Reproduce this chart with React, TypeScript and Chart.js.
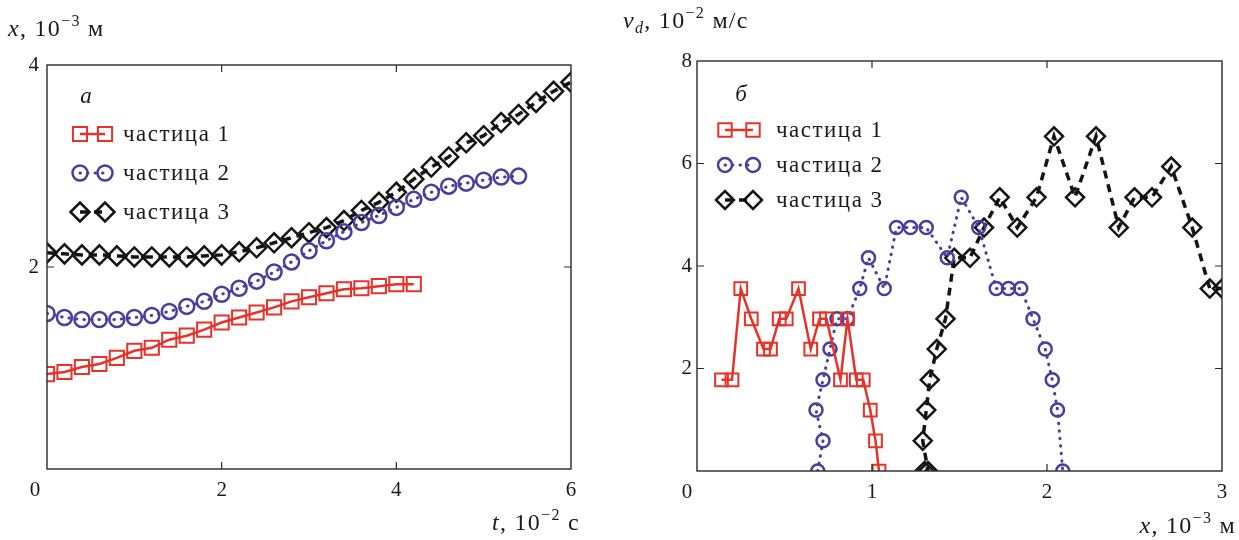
import React, { useEffect, useRef } from 'react';
import { Chart, registerables } from 'chart.js';

Chart.register(...registerables);

const FONT = '"Liberation Serif", "Times New Roman", serif';

// ---------- panel a: x(t) ----------
const tA = [0, 0.2, 0.4, 0.6, 0.8, 1.0, 1.2, 1.4, 1.6, 1.8, 2.0, 2.2, 2.4, 2.6, 2.8, 3.0, 3.2, 3.4, 3.6, 3.8, 4.0, 4.2, 4.4, 4.6, 4.8, 5.0, 5.2, 5.4, 5.6, 5.8, 6.0];
const xA1 = [0.94, 0.96, 1.01, 1.04, 1.10, 1.17, 1.20, 1.28, 1.32, 1.38, 1.45, 1.50, 1.55, 1.60, 1.66, 1.70, 1.74, 1.78, 1.79, 1.81, 1.83, 1.83];
const xA2 = [1.54, 1.50, 1.48, 1.48, 1.48, 1.50, 1.52, 1.56, 1.61, 1.66, 1.73, 1.79, 1.86, 1.95, 2.05, 2.16, 2.26, 2.35, 2.44, 2.51, 2.59, 2.67, 2.74, 2.80, 2.83, 2.86, 2.89, 2.90];
const xA3 = [2.14, 2.13, 2.12, 2.12, 2.11, 2.10, 2.10, 2.10, 2.10, 2.11, 2.12, 2.15, 2.19, 2.24, 2.29, 2.34, 2.39, 2.46, 2.56, 2.64, 2.74, 2.87, 2.99, 3.09, 3.23, 3.30, 3.43, 3.51, 3.63, 3.74, 3.83];

// ---------- panel б: v_d(x) ----------
const xB1 = [0.14, 0.20, 0.25, 0.31, 0.38, 0.42, 0.47, 0.51, 0.58, 0.65, 0.70, 0.74, 0.82, 0.86, 0.91, 0.95, 0.99, 1.02, 1.04];
const vB1 = [1.78, 1.78, 3.56, 2.97, 2.38, 2.38, 2.97, 2.97, 3.56, 2.38, 2.97, 2.97, 1.78, 2.97, 1.78, 1.78, 1.19, 0.59, 0];
const xB2 = [0.69, 0.72, 0.68, 0.72, 0.76, 0.80, 0.86, 0.93, 0.98, 1.07, 1.14, 1.22, 1.31, 1.43, 1.51, 1.61, 1.71, 1.78, 1.85, 1.92, 1.99, 2.03, 2.06, 2.09];
const vB2 = [0, 0.59, 1.19, 1.78, 2.38, 2.97, 2.97, 3.56, 4.16, 3.56, 4.75, 4.75, 4.75, 4.16, 5.34, 4.75, 3.56, 3.56, 3.56, 2.97, 2.38, 1.78, 1.19, 0];
const xB3 = [1.30, 1.32, 1.29, 1.31, 1.33, 1.37, 1.42, 1.47, 1.56, 1.64, 1.73, 1.83, 1.94, 2.04, 2.16, 2.28, 2.41, 2.50, 2.60, 2.71, 2.83, 2.93, 3.00];
const vB3 = [0, 0, 0.59, 1.19, 1.78, 2.38, 2.97, 4.16, 4.16, 4.75, 5.34, 4.75, 5.34, 6.53, 5.34, 6.53, 4.75, 5.34, 5.34, 5.94, 4.75, 3.56, 3.56];

const labels = ['частица 1', 'частица 2', 'частица 3'];
const ticksA_x = [2, 4];
const ticksA_y = [2];
const ticksB_x = [1, 2];
const ticksB_y = [2, 4, 6];

const RED = '#E5332A';
const BLUE = '#4B3C9E';
const BLACK = '#141414';

type Part = { t: string; italic?: boolean; sup?: boolean; sub?: boolean };

function drawRich(ctx: CanvasRenderingContext2D, parts: Part[], x: number, y: number, align: 'left' | 'right') {
  (ctx as any).letterSpacing = '1.3px';
  const segs = parts.map((p) => {
    const fs = p.sup || p.sub ? 16 : 24;
    const font = `${p.italic ? 'italic ' : ''}${fs}px ${FONT}`;
    ctx.font = font;
    return { ...p, font, w: ctx.measureText(p.t).width, dy: p.sup ? -10 : p.sub ? 5 : 0 };
  });
  const total = segs.reduce((s, q) => s + q.w, 0);
  let cx = align === 'right' ? x - total : x;
  ctx.textAlign = 'left';
  ctx.textBaseline = 'alphabetic';
  ctx.fillStyle = '#1a1a1a';
  for (const s of segs) {
    ctx.font = s.font;
    ctx.fillText(s.t, cx, y + s.dy);
    cx += s.w;
  }
  (ctx as any).letterSpacing = '0px';
}

function markerPath(ctx: CanvasRenderingContext2D, style: string, x: number, y: number, r: number) {
  ctx.beginPath();
  if (style === 'rect') {
    const s = r * Math.SQRT1_2;
    ctx.rect(x - s, y - s, 2 * s, 2 * s);
  } else if (style === 'circle') {
    ctx.arc(x, y, r, 0, Math.PI * 2);
  } else {
    ctx.moveTo(x - r, y);
    ctx.lineTo(x, y - r);
    ctx.lineTo(x + r, y);
    ctx.lineTo(x, y + r);
    ctx.closePath();
  }
}

const decoPlugin = {
  id: 'deco',
  afterDraw(chart: any, _args: any, opts: any) {
    const ctx: CanvasRenderingContext2D = chart.ctx;
    const { left, right, top, bottom } = chart.chartArea;
    const xs = chart.scales.x;
    const ys = chart.scales.y;
    ctx.save();
    // frame
    ctx.strokeStyle = '#2a2a2a';
    ctx.lineWidth = 1.4;
    ctx.setLineDash([]);
    ctx.strokeRect(left, top, right - left, bottom - top);
    // inward ticks on all sides
    const L = 7;
    ctx.lineWidth = 1.2;
    ctx.beginPath();
    for (const v of opts.ticksX) {
      const px = xs.getPixelForValue(v);
      ctx.moveTo(px, bottom);
      ctx.lineTo(px, bottom - L);
      ctx.moveTo(px, top);
      ctx.lineTo(px, top + L);
    }
    for (const v of opts.ticksY) {
      const py = ys.getPixelForValue(v);
      ctx.moveTo(left, py);
      ctx.lineTo(left + L, py);
      ctx.moveTo(right, py);
      ctx.lineTo(right - L, py);
    }
    ctx.stroke();
    // shared origin label
    ctx.font = `21px ${FONT}`;
    ctx.fillStyle = '#1a1a1a';
    ctx.textAlign = 'center';
    ctx.textBaseline = 'middle';
    ctx.fillText('0', left - opts.zeroOffset, bottom + 21);
    // panel letter
    ctx.font = `italic 23px ${FONT}`;
    ctx.fillText(opts.panel, opts.panelPos[0], opts.panelPos[1]);
    // legend
    const lg = opts.legend;
    chart.data.datasets.forEach((ds: any, i: number) => {
      const y = lg.ys[i];
      ctx.strokeStyle = ds.borderColor;
      ctx.lineWidth = ds.borderWidth;
      ctx.lineCap = ds.borderCapStyle || 'butt';
      ctx.setLineDash(ds.borderDash || []);
      ctx.beginPath();
      ctx.moveTo(lg.x1, y);
      ctx.lineTo(lg.x2, y);
      ctx.stroke();
      ctx.setLineDash([]);
      ctx.lineCap = 'butt';
      for (const mx of [lg.x1, lg.x2]) {
        markerPath(ctx, ds.pointStyle, mx, y, lg.r[i]);
        ctx.lineWidth = ds.pointBorderWidth;
        ctx.strokeStyle = ds.borderColor;
        ctx.stroke();
      }
      ctx.font = `23px ${FONT}`;
      (ctx as any).letterSpacing = '1.5px';
      ctx.fillStyle = '#1a1a1a';
      ctx.textAlign = 'left';
      ctx.textBaseline = 'alphabetic';
      ctx.fillText(ds.label, lg.tx, y + 7);
      (ctx as any).letterSpacing = '0px';
    });
    // axis titles
    drawRich(ctx, opts.yTitle.parts, opts.yTitle.x, opts.yTitle.y, 'left');
    drawRich(ctx, opts.xTitle.parts, opts.xTitle.x, opts.xTitle.y, 'right');
    ctx.restore();
  },
};

function styleSets(d1: any[], d2: any[], d3: any[], r: number[]) {
  return [
    {
      label: labels[0],
      data: d1,
      borderColor: RED,
      borderWidth: 2.5,
      pointStyle: 'rect',
      pointRadius: r[0],
      pointBorderWidth: 2,
      pointBackgroundColor: 'rgba(0,0,0,0)',
      pointBorderColor: RED,
      clip: 0,
    },
    {
      label: labels[1],
      data: d2,
      borderColor: BLUE,
      borderWidth: 3,
      borderDash: [0.5, 7],
      borderCapStyle: 'round',
      pointStyle: 'circle',
      pointRadius: r[1],
      pointBorderWidth: 2.5,
      pointBackgroundColor: 'rgba(0,0,0,0)',
      pointBorderColor: BLUE,
      clip: 0,
    },
    {
      label: labels[2],
      data: d3,
      borderColor: BLACK,
      borderWidth: 3.5,
      borderDash: [8, 6],
      pointStyle: 'rectRot',
      pointRadius: r[2],
      pointBorderWidth: 2.5,
      pointBackgroundColor: 'rgba(0,0,0,0)',
      pointBorderColor: BLACK,
      clip: 0,
    },
  ];
}

function makeConfig(p: any): any {
  return {
    type: 'line',
    data: { datasets: p.datasets },
    options: {
      responsive: false,
      animation: false,
      devicePixelRatio: 1,
      layout: { padding: { left: 0, bottom: 0, top: p.top, right: p.right } },
      plugins: {
        legend: { display: false },
        tooltip: { enabled: false },
        deco: p.deco,
      },
      elements: { line: { tension: 0 } },
      scales: {
        x: {
          type: 'linear',
          min: p.xMin,
          max: p.xMax,
          grid: { display: false, drawTicks: false },
          border: { display: false },
          afterFit: (s: any) => {
            s.height = p.xH;
          },
          ticks: {
            stepSize: p.xStep,
            padding: 9,
            color: '#1a1a1a',
            font: { family: FONT, size: 21 },
            maxRotation: 0,
            callback: (v: number) => (v === 0 ? '' : String(v)),
          },
        },
        y: {
          type: 'linear',
          min: p.yMin,
          max: p.yMax,
          grid: { display: false, drawTicks: false },
          border: { display: false },
          afterFit: (s: any) => {
            s.width = p.yW;
          },
          ticks: {
            stepSize: p.yStep,
            padding: p.yPad,
            color: '#1a1a1a',
            font: { family: FONT, size: 21 },
            callback: (v: number) => (v === 0 ? '' : String(v)),
          },
        },
      },
    },
    plugins: [decoPlugin],
  };
}

export default function App() {
  const refA = useRef<HTMLCanvasElement>(null);
  const refB = useRef<HTMLCanvasElement>(null);

  useEffect(() => {
    const dA1 = xA1.map((v, i) => ({ x: tA[i], y: v }));
    const dA2 = xA2.map((v, i) => ({ x: tA[i], y: v }));
    const dA3 = xA3.map((v, i) => ({ x: tA[i], y: v }));
    const dB1 = vB1.map((v, i) => ({ x: xB1[i], y: v }));
    const dB2 = vB2.map((v, i) => ({ x: xB2[i], y: v }));
    const dB3 = vB3.map((v, i) => ({ x: xB3[i], y: v }));

    const chartA = new Chart(
      refA.current as HTMLCanvasElement,
      makeConfig({
        datasets: styleSets(dA1, dA2, dA3, [10, 7.5, 9.5]),
        top: 65,
        right: 49,
        xH: 71,
        yW: 47,
        yPad: 8,
        xMin: 0,
        xMax: 6,
        xStep: 2,
        yMin: 0,
        yMax: 4,
        yStep: 2,
        deco: {
          ticksX: ticksA_x,
          ticksY: ticksA_y,
          zeroOffset: 12,
          panel: 'a',
          panelPos: [86, 97],
          legend: { x1: 80, x2: 105, tx: 123, ys: [134, 173, 212], r: [10, 7.5, 9.5] },
          yTitle: { x: 8, y: 36, parts: [{ t: 'x', italic: true }, { t: ', 10' }, { t: '−3', sup: true }, { t: ' м' }] },
          xTitle: { x: 580, y: 530, parts: [{ t: 't', italic: true }, { t: ', 10' }, { t: '−2', sup: true }, { t: ' с' }] },
        },
      })
    );

    const chartB = new Chart(
      refB.current as HTMLCanvasElement,
      makeConfig({
        datasets: styleSets(dB1, dB2, dB3, [9, 6.5, 9]),
        top: 61,
        right: 17,
        xH: 69,
        yW: 77,
        yPad: 5,
        xMin: 0,
        xMax: 3,
        xStep: 1,
        yMin: 0,
        yMax: 8,
        yStep: 2,
        deco: {
          ticksX: ticksB_x,
          ticksY: ticksB_y,
          zeroOffset: 10,
          panel: 'б',
          panelPos: [121, 95],
          legend: { x1: 105, x2: 133, tx: 156, ys: [130, 165, 200], r: [9.5, 7, 9] },
          yTitle: {
            x: 3,
            y: 28,
            parts: [{ t: 'v', italic: true }, { t: 'd', italic: true, sub: true }, { t: ', 10' }, { t: '−2', sup: true }, { t: ' м/с' }],
          },
          xTitle: { x: 616, y: 533, parts: [{ t: 'x', italic: true }, { t: ', 10' }, { t: '−3', sup: true }, { t: ' м' }] },
        },
      })
    );

    return () => {
      chartA.destroy();
      chartB.destroy();
    };
  }, []);

  return (
    <div style={{ position: 'absolute', left: 0, top: 0, width: 1239, height: 540, background: '#ffffff' }}>
      <canvas ref={refA} width={620} height={540} style={{ position: 'absolute', left: 0, top: 0, width: 620, height: 540 }} />
      <canvas ref={refB} width={619} height={540} style={{ position: 'absolute', left: 620, top: 0, width: 619, height: 540 }} />
    </div>
  );
}
